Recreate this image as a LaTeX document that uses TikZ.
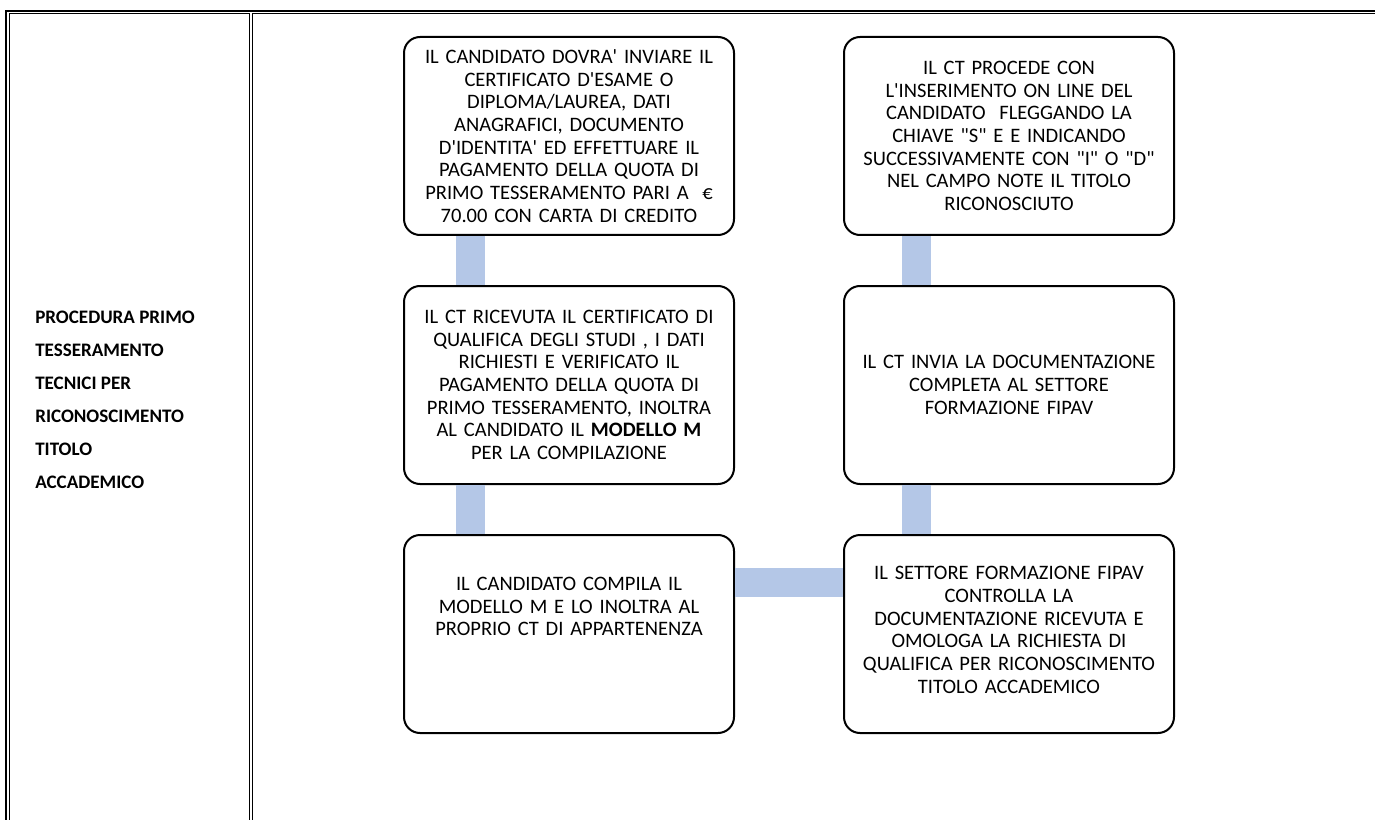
\documentclass[tikz,border=0pt]{standalone}
\usepackage{fontspec}
\setmainfont{Carlito}
\usetikzlibrary{positioning, calc}
\definecolor{barblue}{RGB}{180,199,231}
\newcommand{\sq}{\textquotesingle}
\newcommand{\dq}{\textquotedbl}
\tikzstyle{process} = [rectangle, rounded corners=12pt, minimum width=247.5pt, minimum height=148.5pt, text width=240pt, align=center, draw=black, line width=1.5pt, font=\fontsize{15.4pt}{17pt}\selectfont]
\tikzstyle{title} = [anchor=west, align=left, inner sep=0pt, font=\bfseries\fontsize{14.3pt}{24.75pt}\selectfont]
\tikzstyle{connector} = [draw=barblue, line width=21.75pt]

\begin{document}
\begin{tikzpicture}[x=0.75pt, y=-0.75pt, node distance=186.75pt]
    \useasboundingbox (0,0) rectangle (1375,820);

    % table frame
    \draw [line width=1.5pt] (6,820) -- (6,11) -- (1375,11);
    \draw [line width=0.75pt] (9.5,820) -- (9.5,13.5) -- (249.5,13.5) -- (249.5,820);
    \draw [line width=0.9pt] (252.7,820) -- (252.7,13.5) -- (1375,13.5);

    \node (title) [title] at (35,400) {PROCEDURA PRIMO\\TESSERAMENTO\\TECNICI PER\\RICONOSCIMENTO\\TITOLO\\ACCADEMICO};

    \node (send_docs) [process] at (569,136) {IL CANDIDATO DOVRA\sq{} INVIARE IL\\CERTIFICATO D\sq{}ESAME O\\DIPLOMA/LAUREA, DATI\\ANAGRAFICI, DOCUMENTO\\D\sq{}IDENTITA\sq{} ED EFFETTUARE IL\\PAGAMENTO DELLA QUOTA DI\\PRIMO TESSERAMENTO PARI A ~€\\70.00 CON CARTA DI CREDITO};
    \node (check_docs) [process, below of=send_docs] {IL CT RICEVUTA IL CERTIFICATO DI\\QUALIFICA DEGLI STUDI , I DATI\\RICHIESTI E VERIFICATO IL\\PAGAMENTO DELLA QUOTA DI\\PRIMO TESSERAMENTO, INOLTRA\\AL CANDIDATO IL \textbf{MODELLO M}\\PER LA COMPILAZIONE};
    \node (fill_model) [process, below of=check_docs, text depth=75pt] {IL CANDIDATO COMPILA IL\\MODELLO M E LO INOLTRA AL\\PROPRIO CT DI APPARTENENZA};

    \node (insert_online) [process, right of=send_docs, xshift=143.25pt] {IL CT PROCEDE CON\\L\sq{}INSERIMENTO ON LINE DEL\\CANDIDATO ~FLEGGANDO LA\\CHIAVE \dq{}S\dq{} E E INDICANDO\\SUCCESSIVAMENTE CON \dq{}I\dq{} O \dq{}D\dq{}\\NEL CAMPO NOTE IL TITOLO\\RICONOSCIUTO};
    \node (send_fipav) [process, below of=insert_online] {IL CT INVIA LA DOCUMENTAZIONE\\COMPLETA AL SETTORE\\FORMAZIONE FIPAV};
    \node (approve) [process, below of=send_fipav, text depth=91pt] {IL SETTORE FORMAZIONE FIPAV\\CONTROLLA LA\\DOCUMENTAZIONE RICEVUTA E\\OMOLOGA LA RICHIESTA DI\\QUALIFICA PER RICONOSCIMENTO\\TITOLO ACCADEMICO};

    \draw [connector] ($(send_docs.south west)+(67,0)$) -- ($(check_docs.north west)+(67,0)$);
    \draw [connector] ($(check_docs.south west)+(67,0)$) -- ($(fill_model.north west)+(67,0)$);
    \draw [connector] ($(fill_model.north east)+(0,48)$) -- ($(approve.north west)+(0,48)$);
    \draw [connector] ($(approve.north west)+(73,0)$) -- ($(send_fipav.south west)+(73,0)$);
    \draw [connector] ($(send_fipav.north west)+(73,0)$) -- ($(insert_online.south west)+(73,0)$);

\end{tikzpicture}
\end{document}
